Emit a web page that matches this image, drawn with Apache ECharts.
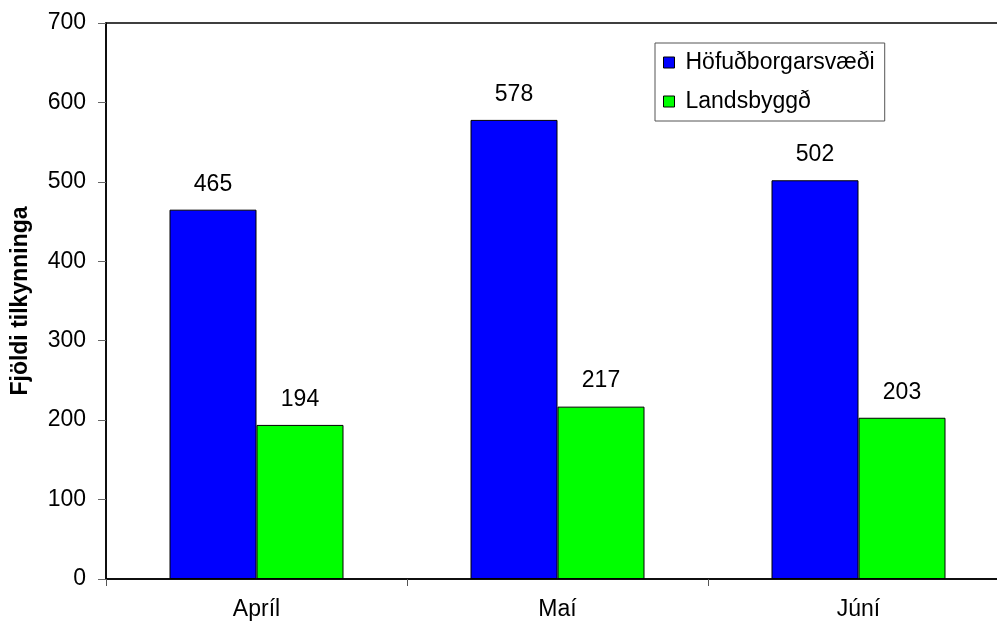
<!DOCTYPE html>
<html><head><meta charset="utf-8">
<script src="https://cdn.jsdelivr.net/npm/echarts@6/dist/echarts.min.js"></script>
<style>html,body{margin:0;padding:0;background:#fff;overflow:hidden;width:997px;height:623px}#c{width:1009px;height:623px}</style>
</head><body><div id="c"></div>
<script>
const categories = ['Apríl', 'Maí', 'Júní'];
const seriesNames = ['Höfuðborgarsvæði', 'Landsbyggð'];
const hofudborg = [465, 578, 502];
const landsbyggd = [194, 217, 203];
const yAxisName = 'Fjöldi tilkynninga';

const font = 'Liberation Sans, Arial, sans-serif';
const fs = 23;
const chart = echarts.init(document.getElementById('c'), null, {renderer: 'canvas'});
const lbl = {show: true, position: 'top', distance: 14, color: '#000', fontFamily: font, fontSize: fs};
chart.setOption({
  animation: false,
  backgroundColor: '#fff',
  grid: {left: 106, right: 0, top: 23, bottom: 44, show: true, borderColor: '#000', borderWidth: 1.5, backgroundColor: 'transparent'},
  legend: {
    orient: 'vertical', left: 655, top: 43,
    padding: [8, 10, 8, 8], itemGap: 16,
    itemWidth: 11, itemHeight: 11, icon: 'rect',
    borderColor: '#555', borderWidth: 1, backgroundColor: '#fff',
    textStyle: {fontFamily: font, fontSize: fs, color: '#000', padding: [0, 0, 0, 6]},
    data: seriesNames.map(n => ({name: n, itemStyle: {borderColor: '#000', borderWidth: 1}}))
  },
  xAxis: {
    type: 'category', data: categories,
    axisLine: {lineStyle: {color: '#000', width: 1.5}},
    axisTick: {show: true, length: 7, lineStyle: {color: '#555'}},
    axisLabel: {fontFamily: font, fontSize: fs, color: '#000', margin: 19}
  },
  yAxis: {
    type: 'value', min: 0, max: 700, interval: 100,
    name: yAxisName, nameLocation: 'middle', nameGap: 74, nameRotate: 90,
    nameTextStyle: {fontFamily: font, fontSize: fs, fontWeight: 'bold', color: '#000'},
    axisLine: {show: true, lineStyle: {color: '#000', width: 1.5}},
    axisTick: {show: true, length: 8, lineStyle: {color: '#666'}},
    axisLabel: {fontFamily: font, fontSize: fs, color: '#000', margin: 20},
    splitLine: {show: false}
  },
  series: [
    {name: seriesNames[0], type: 'bar', data: hofudborg, barWidth: 87, barGap: '0%',
     itemStyle: {color: '#0000ff', borderColor: '#000', borderWidth: 1}, label: lbl},
    {name: seriesNames[1], type: 'bar', data: landsbyggd, barWidth: 87, barGap: '0%',
     itemStyle: {color: '#00ff00', borderColor: '#000', borderWidth: 1}, label: lbl}
  ]
});
</script></body></html>
